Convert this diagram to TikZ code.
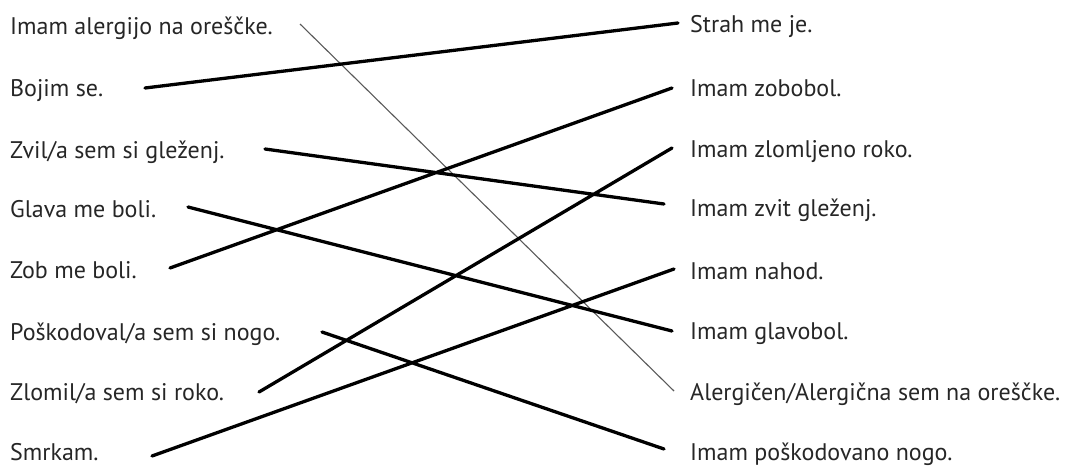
\documentclass[tikz,border=0pt]{standalone}
\usepackage{fontspec}
\setmainfont{PT Sans}
\usepackage{tikz}

\begin{document}
\begin{tikzpicture}[x=1pt,y=-1pt,
  txt/.style={anchor=base west,inner sep=0pt,text=black!85,font=\fontsize{24}{28}\selectfont},
  match/.style={line width=3.3pt,line cap=round},
  hint/.style={line width=1.1pt,black!65}]
\useasboundingbox (0,0) rectangle (1091,466);
% left column
\node[txt] (alergija) at (10,34) {Imam alergijo na oreščke.}; \node[txt] (bojim) at (10,96) {Bojim se.};
\node[txt] (zvil) at (10,158) {Zvil/a sem si gleženj.}; \node[txt] (glava) at (10,217) {Glava me boli.};
\node[txt] (zob) at (10,278) {Zob me boli.}; \node[txt] (poskodoval) at (10,340) {Poškodoval/a sem si nogo.};
\node[txt] (zlomil) at (10,400) {Zlomil/a sem si roko.}; \node[txt] (smrkam) at (10,460) {Smrkam.};
% right column
\node[txt] (strah) at (690,32) {Strah me je.}; \node[txt] (zobobol) at (690,96) {Imam zobobol.};
\node[txt] (zlomljeno) at (690,157) {Imam zlomljeno roko.}; \node[txt] (zvit) at (690,216) {Imam zvit gleženj.};
\node[txt] (nahod) at (690,279) {Imam nahod.}; \node[txt] (glavobol) at (690,339) {Imam glavobol.};
\node[txt] (alergicen) at (690,400) {Alergičen/Alergična sem na oreščke.}; \node[txt] (nogo) at (690,460) {Imam poškodovano nogo.};
% line ends
\coordinate (a1) at (300,24); \coordinate (a2) at (145,88); \coordinate (a3) at (265,149); \coordinate (a4) at (188,207);
\coordinate (a5) at (170,268); \coordinate (a6) at (322,332); \coordinate (a7) at (259,392); \coordinate (a8) at (152,456);
\coordinate (b1) at (678,23); \coordinate (b2) at (672,88); \coordinate (b3) at (672,148); \coordinate (b4) at (664,204);
\coordinate (b5) at (674,269); \coordinate (b6) at (672,331); \coordinate (b7) at (674,391); \coordinate (b8) at (664,449);
\draw[hint] (a1) -- (b7);
\draw[match] (a2) -- (b1) (a3) -- (b4) (a4) -- (b6) (a5) -- (b2) (a6) -- (b8) (a7) -- (b3) (a8) -- (b5);
\end{tikzpicture}
\end{document}
